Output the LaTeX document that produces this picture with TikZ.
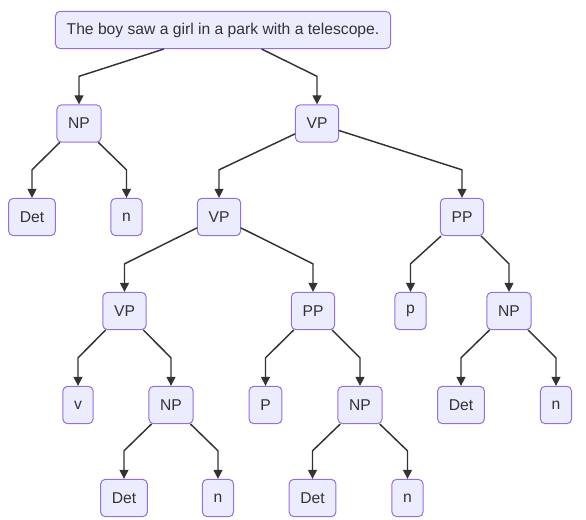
\documentclass[tikz,border=0pt]{standalone}
\usepackage{fontspec}
\setmainfont{Liberation Sans}
\usetikzlibrary{arrows.meta}
\definecolor{boxfill}{HTML}{ECECFF}
\definecolor{boxline}{HTML}{9370DB}
\definecolor{ink}{HTML}{333333}
\begin{document}
\begin{tikzpicture}[x=0.75pt, y=-0.75pt, font=\fontsize{11.75}{14}\selectfont, line join=round, line cap=round, >={Triangle[length=6.8pt,width=6.8pt]},
	box/.style={draw=boxline, fill=boxfill, rounded corners=3.5pt, line width=0.75pt, text=ink, minimum height=28pt, inner xsep=8.4pt, inner ysep=0pt},
	edge/.style={->, draw=ink, line width=1.1pt}]
	\useasboundingbox (0,0) rectangle (586,520);
	\path
	(223,30) node[box] (S) {The boy saw a girl in a park with a telescope.}
	(79,123.5) node[box] (NPa) {NP}
	(317,123.5) node[box] (VPa) {VP}
	(32,217) node[box] (Deta) {Det}
	(126.5,217) node[box] (na) {n}
	(219,217) node[box] (VPb) {VP}
	(462,217) node[box] (PPa) {PP}
	(124.5,311) node[box] (VPc) {VP}
	(313,311) node[box] (PPb) {PP}
	(410.5,311) node[box] (pa) {p}
	(509,311) node[box] (NPb) {NP}
	(78,405) node[box] (va) {v}
	(171,405) node[box] (NPc) {NP}
	(265.5,405) node[box] (Pb) {P}
	(360,405) node[box] (NPd) {NP}
	(461,405) node[box] (Detb) {Det}
	(556,405) node[box] (nb) {n}
	(124,498) node[box] (Detc) {Det}
	(218,498) node[box] (nc) {n}
	(312.5,498) node[box] (Detd) {Det}
	(407.5,498) node[box] (nd) {n}
	;
	\foreach \a/\b in {S/NPa,S/VPa,NPa/Deta,NPa/na,VPa/VPb,VPa/PPa,VPb/VPc,VPb/PPb,PPa/pa,PPa/NPb,
		VPc/va,VPc/NPc,PPb/Pb,PPb/NPd,NPb/Detb,NPb/nb,NPc/Detc,NPc/nc,NPd/Detd,NPd/nd}{
		\draw[edge] (\a) -- ([yshift=21pt]\b.north) -- (\b);}
\end{tikzpicture}
\end{document}
